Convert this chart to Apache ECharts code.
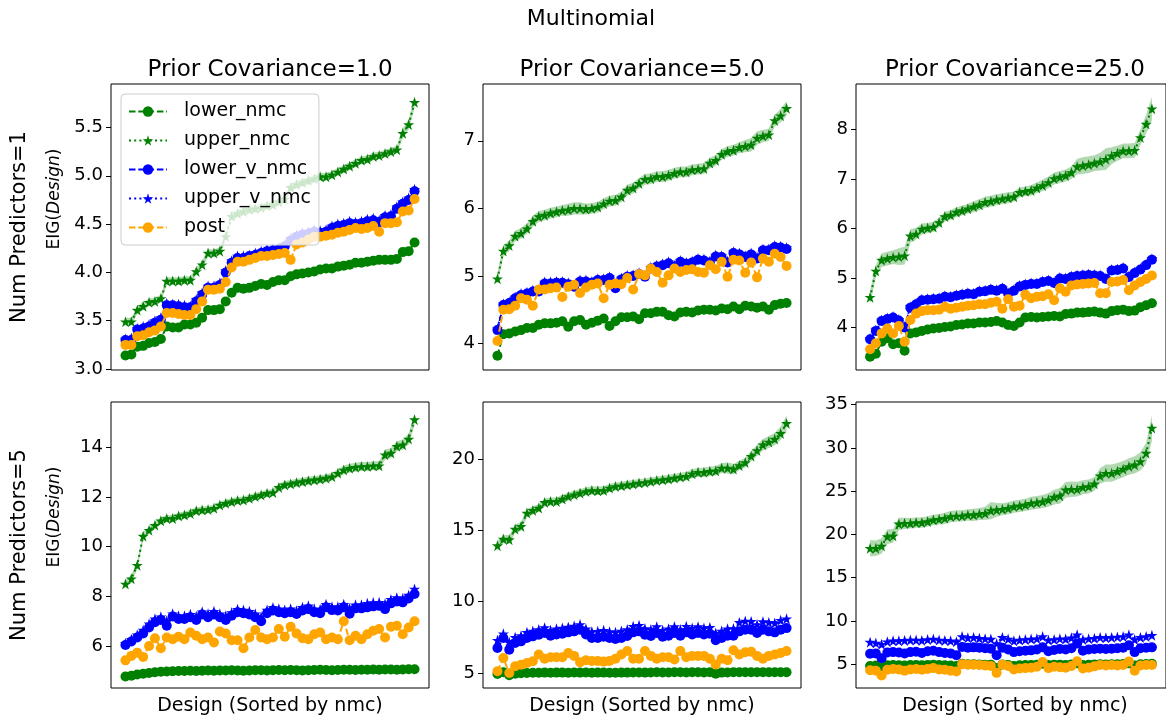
<!DOCTYPE html>
<html>
<head>
<meta charset="utf-8">
<script src="https://cdn.jsdelivr.net/npm/echarts@6/dist/echarts.min.js"></script>
<style>
  html, body { margin: 0; padding: 0; background: #fff; }
  #chart { width: 1166px; height: 721px; }
</style>
</head>
<body>
<div id="chart"></div>
<script>
// Design index 0..49 (designs sorted by nmc estimate)
const designCount = 50;

// ---- Num Predictors = 1, Prior Covariance = 1.0 ----
const lowerNmc_p1_c1 = [3.14,3.15,3.23,3.24,3.27,3.28,3.31,3.44,3.43,3.43,3.46,3.46,3.48,3.53,3.61,3.61,3.62,3.70,3.79,3.84,3.83,3.84,3.86,3.88,3.87,3.90,3.92,3.92,3.96,3.98,3.99,4.00,4.01,4.03,4.04,4.04,4.06,4.07,4.08,4.10,4.10,4.11,4.12,4.13,4.13,4.13,4.14,4.21,4.22,4.31];
const upperNmc_p1_c1 = [3.49,3.49,3.61,3.65,3.69,3.70,3.73,3.91,3.91,3.91,3.92,3.92,4.01,4.08,4.20,4.20,4.22,4.37,4.58,4.61,4.63,4.65,4.66,4.67,4.69,4.70,4.73,4.76,4.88,4.91,4.93,4.95,4.97,4.99,4.99,5.01,5.04,5.07,5.10,5.13,5.16,5.17,5.20,5.21,5.23,5.25,5.27,5.44,5.53,5.76];
const upperNmcSpread_p1_c1 = [0.04,0.04,0.04,0.04,0.04,0.04,0.04,0.04,0.04,0.04,0.04,0.04,0.04,0.04,0.04,0.04,0.04,0.04,0.04,0.04,0.04,0.04,0.04,0.04,0.04,0.04,0.04,0.04,0.04,0.04,0.04,0.04,0.04,0.04,0.04,0.04,0.04,0.04,0.04,0.04,0.04,0.04,0.04,0.04,0.04,0.04,0.04,0.05,0.05,0.06];
const lowerVNmc_p1_c1 = [3.30,3.30,3.41,3.42,3.44,3.48,3.51,3.66,3.66,3.65,3.64,3.64,3.70,3.77,3.84,3.84,3.87,4.00,4.10,4.15,4.15,4.17,4.18,4.20,4.22,4.23,4.24,4.27,4.33,4.37,4.39,4.40,4.42,4.41,4.42,4.46,4.48,4.49,4.51,4.50,4.51,4.53,4.54,4.52,4.57,4.58,4.66,4.71,4.75,4.84];
const upperVNmc_p1_c1 = [3.31,3.32,3.42,3.44,3.46,3.50,3.53,3.68,3.67,3.67,3.66,3.65,3.72,3.79,3.86,3.86,3.89,4.02,4.12,4.17,4.17,4.18,4.20,4.22,4.24,4.25,4.26,4.29,4.35,4.39,4.41,4.42,4.44,4.43,4.44,4.48,4.50,4.51,4.53,4.52,4.53,4.55,4.56,4.54,4.59,4.60,4.68,4.73,4.77,4.86];
const post_p1_c1 = [3.25,3.25,3.34,3.35,3.38,3.40,3.44,3.58,3.58,3.57,3.56,3.56,3.62,3.70,3.82,3.82,3.83,3.90,4.05,4.11,4.11,4.13,4.15,4.17,4.17,4.18,4.19,4.20,4.13,4.29,4.31,4.34,4.37,4.37,4.38,4.39,4.41,4.42,4.44,4.46,4.45,4.46,4.48,4.42,4.51,4.51,4.52,4.63,4.64,4.76];

// ---- Num Predictors = 1, Prior Covariance = 5.0 ----
const lowerNmc_p1_c5 = [3.82,4.14,4.15,4.18,4.20,4.23,4.23,4.28,4.30,4.30,4.31,4.33,4.25,4.33,4.35,4.28,4.31,4.34,4.37,4.26,4.33,4.39,4.39,4.40,4.36,4.45,4.45,4.47,4.47,4.42,4.40,4.46,4.47,4.46,4.49,4.50,4.50,4.49,4.52,4.51,4.55,4.51,4.56,4.55,4.53,4.55,4.50,4.57,4.59,4.60];
const upperNmc_p1_c5 = [4.96,5.37,5.45,5.59,5.63,5.70,5.81,5.88,5.90,5.93,5.95,5.97,5.98,6.00,6.00,5.99,6.00,6.02,6.07,6.11,6.12,6.17,6.27,6.30,6.37,6.43,6.44,6.47,6.47,6.49,6.52,6.54,6.54,6.57,6.58,6.59,6.67,6.71,6.80,6.84,6.86,6.90,6.92,6.94,7.04,7.07,7.09,7.30,7.37,7.48];
const upperNmcSpread_p1_c5 = [0.09,0.08,0.08,0.08,0.08,0.08,0.08,0.08,0.08,0.08,0.08,0.08,0.09,0.09,0.09,0.08,0.08,0.08,0.08,0.08,0.08,0.08,0.08,0.08,0.08,0.08,0.08,0.08,0.08,0.08,0.08,0.08,0.08,0.08,0.08,0.08,0.08,0.08,0.08,0.08,0.08,0.08,0.09,0.10,0.10,0.09,0.09,0.09,0.10,0.11];
const lowerVNmc_p1_c5 = [4.20,4.57,4.60,4.67,4.72,4.74,4.77,4.77,4.89,4.89,4.90,4.90,4.88,4.84,4.92,4.92,4.90,4.94,4.94,4.97,4.82,4.95,4.99,5.00,5.03,4.99,5.11,5.14,5.16,5.19,5.14,5.21,5.18,5.20,5.24,5.23,5.20,5.29,5.28,5.20,5.34,5.32,5.28,5.32,5.26,5.38,5.38,5.43,5.42,5.40];
const upperVNmc_p1_c5 = [4.22,4.59,4.62,4.69,4.74,4.76,4.79,4.79,4.91,4.91,4.92,4.92,4.90,4.86,4.94,4.94,4.92,4.96,4.96,4.99,4.84,4.97,5.01,5.02,5.05,5.01,5.13,5.16,5.18,5.21,5.16,5.23,5.20,5.22,5.26,5.25,5.22,5.31,5.30,5.22,5.36,5.34,5.30,5.34,5.28,5.40,5.40,5.45,5.44,5.42];
const post_p1_c5 = [4.04,4.50,4.51,4.56,4.67,4.65,4.56,4.80,4.80,4.82,4.83,4.69,4.84,4.87,4.75,4.83,4.87,4.89,4.67,4.87,4.89,4.88,4.97,4.80,5.03,5.01,5.11,5.06,4.90,5.01,5.11,5.06,5.09,5.10,5.06,5.05,5.16,5.10,5.21,4.99,5.24,5.23,5.05,5.20,4.98,5.26,5.21,5.33,5.28,5.15];

// ---- Num Predictors = 1, Prior Covariance = 25.0 ----
const lowerNmc_p1_c25 = [3.41,3.47,3.71,3.78,3.66,3.68,3.53,3.88,3.90,3.93,3.96,3.98,3.99,4.01,4.02,4.05,4.06,4.08,4.08,4.10,4.10,4.11,4.13,4.10,4.05,4.03,4.10,4.20,4.21,4.20,4.21,4.22,4.23,4.22,4.27,4.28,4.30,4.30,4.31,4.32,4.30,4.28,4.33,4.35,4.36,4.33,4.34,4.41,4.45,4.49];
const upperNmc_p1_c25 = [4.61,5.14,5.36,5.39,5.42,5.43,5.45,5.85,5.89,5.99,6.01,6.03,6.12,6.24,6.27,6.33,6.36,6.40,6.44,6.48,6.53,6.55,6.58,6.60,6.62,6.64,6.73,6.75,6.77,6.82,6.87,6.93,7.01,7.04,7.07,7.13,7.25,7.27,7.29,7.32,7.35,7.40,7.47,7.52,7.57,7.57,7.58,7.84,8.11,8.42];
const upperNmcSpread_p1_c25 = [0.14,0.12,0.14,0.14,0.14,0.17,0.18,0.14,0.12,0.11,0.10,0.10,0.10,0.10,0.10,0.10,0.10,0.10,0.11,0.11,0.11,0.11,0.11,0.11,0.11,0.10,0.10,0.10,0.11,0.11,0.12,0.12,0.12,0.12,0.12,0.13,0.16,0.17,0.17,0.16,0.18,0.22,0.17,0.15,0.15,0.15,0.15,0.16,0.19,0.24];
const lowerVNmc_p1_c25 = [3.76,3.93,4.13,4.17,4.20,4.14,4.00,4.40,4.47,4.55,4.56,4.57,4.58,4.62,4.61,4.64,4.66,4.68,4.67,4.72,4.73,4.76,4.74,4.78,4.68,4.74,4.83,4.86,4.88,4.88,4.92,4.94,4.90,4.99,4.98,5.02,5.04,5.05,5.06,5.05,5.04,4.98,5.15,5.16,5.19,5.02,5.10,5.17,5.26,5.37];
const upperVNmc_p1_c25 = [3.78,3.95,4.15,4.19,4.22,4.16,4.02,4.42,4.49,4.57,4.58,4.59,4.60,4.64,4.63,4.66,4.68,4.70,4.69,4.74,4.75,4.78,4.76,4.80,4.70,4.76,4.85,4.88,4.90,4.90,4.94,4.96,4.92,5.01,5.00,5.04,5.06,5.07,5.08,5.07,5.06,5.00,5.17,5.18,5.21,5.04,5.12,5.19,5.28,5.39];
const post_p1_c25 = [3.56,3.68,3.88,3.98,3.88,4.03,3.71,4.15,4.28,4.33,4.35,4.35,4.36,4.42,4.38,4.40,4.42,4.44,4.45,4.47,4.47,4.50,4.52,4.38,4.57,4.42,4.44,4.66,4.59,4.62,4.63,4.67,4.55,4.79,4.72,4.85,4.87,4.88,4.89,4.90,4.69,4.69,4.92,4.93,4.96,4.75,4.85,4.92,4.98,5.05];

// ---- Num Predictors = 5, Prior Covariance = 1.0 ----
const lowerNmc_p5_c1 = [4.78,4.81,4.86,4.89,4.92,4.95,4.97,4.98,4.99,5.00,5.00,5.01,5.00,5.01,5.02,5.01,5.02,5.02,5.03,5.02,5.01,5.02,5.03,5.03,5.02,5.03,5.04,5.03,5.04,5.03,5.02,5.03,5.04,5.05,5.04,5.03,5.04,5.05,5.05,5.04,5.05,5.05,5.06,5.05,5.06,5.06,5.05,5.06,5.07,5.07];
const upperNmc_p5_c1 = [8.50,8.71,9.25,10.42,10.66,10.86,11.04,11.13,11.13,11.23,11.27,11.33,11.44,11.47,11.49,11.54,11.67,11.74,11.80,11.85,11.87,11.94,12.01,12.07,12.14,12.17,12.38,12.48,12.52,12.57,12.61,12.65,12.68,12.71,12.75,12.81,12.95,13.08,13.15,13.19,13.22,13.22,13.25,13.25,13.69,13.76,14.03,14.09,14.32,15.10];
const upperNmcSpread_p5_c1 = [0.16,0.16,0.16,0.16,0.14,0.14,0.14,0.14,0.14,0.14,0.14,0.14,0.14,0.14,0.14,0.14,0.14,0.14,0.14,0.14,0.14,0.14,0.14,0.14,0.14,0.14,0.16,0.16,0.16,0.16,0.16,0.16,0.16,0.16,0.16,0.16,0.16,0.18,0.18,0.18,0.18,0.18,0.18,0.18,0.20,0.20,0.20,0.20,0.22,0.24];
const lowerVNmc_p5_c1 = [6.05,6.19,6.35,6.51,6.75,6.96,7.05,6.82,7.19,7.09,7.09,7.16,7.05,7.27,7.16,7.27,7.16,7.05,7.22,7.36,7.32,7.27,7.16,7.00,7.32,7.43,7.36,7.32,7.36,7.29,7.43,7.49,7.36,7.32,7.56,7.45,7.43,7.56,7.30,7.52,7.52,7.56,7.60,7.62,7.49,7.72,7.80,7.76,7.92,8.10];
const upperVNmc_p5_c1 = [6.12,6.28,6.46,6.65,6.90,7.10,7.18,7.02,7.30,7.22,7.22,7.28,7.20,7.38,7.30,7.40,7.30,7.22,7.35,7.48,7.45,7.40,7.30,7.18,7.45,7.55,7.50,7.45,7.50,7.42,7.56,7.62,7.50,7.48,7.68,7.58,7.58,7.68,7.52,7.66,7.66,7.72,7.75,7.76,7.70,7.88,7.95,7.92,8.05,8.30];
const post_p5_c1 = [5.43,5.61,5.74,5.57,6.01,6.32,5.92,6.35,6.28,6.38,6.28,6.55,6.42,6.28,6.35,6.15,6.59,6.51,6.24,6.24,5.92,6.35,6.65,6.35,6.28,6.35,6.69,6.38,6.78,6.51,6.32,6.28,6.48,6.55,6.28,6.35,6.28,7.00,6.24,6.42,6.28,6.48,6.62,6.69,6.35,6.78,6.82,6.48,6.75,7.00];

// ---- Num Predictors = 5, Prior Covariance = 5.0 ----
const lowerNmc_p5_c5 = [4.93,5.05,4.85,4.95,4.98,5.00,5.02,5.02,5.03,5.02,5.03,5.03,5.02,5.04,5.03,5.04,5.02,5.03,5.03,5.02,5.02,5.03,5.03,5.04,5.04,5.03,5.04,5.05,5.04,5.04,5.05,5.05,5.04,5.05,5.05,5.04,5.05,4.95,5.03,5.04,5.05,5.05,5.06,5.05,5.05,5.06,5.06,5.05,5.06,5.06];
const upperNmc_p5_c5 = [13.93,14.39,14.35,15.09,15.28,16.21,16.40,16.57,16.96,17.03,17.03,17.20,17.38,17.50,17.62,17.73,17.80,17.78,17.80,17.97,18.08,18.13,18.20,18.25,18.32,18.36,18.43,18.50,18.55,18.60,18.67,18.74,18.79,18.97,19.07,19.07,19.14,19.18,19.37,19.37,19.30,19.55,19.75,20.20,20.60,21.00,21.20,21.40,21.80,22.50];
const upperNmcSpread_p5_c5 = [0.35,0.30,0.30,0.30,0.30,0.30,0.28,0.28,0.28,0.28,0.28,0.28,0.28,0.28,0.28,0.28,0.30,0.30,0.30,0.28,0.28,0.28,0.28,0.28,0.28,0.28,0.28,0.28,0.28,0.30,0.30,0.30,0.30,0.32,0.32,0.32,0.32,0.34,0.34,0.40,0.36,0.34,0.34,0.36,0.38,0.40,0.42,0.44,0.48,0.55];
const lowerVNmc_p5_c5 = [6.75,7.45,6.64,7.10,7.22,7.45,7.57,7.69,7.80,7.62,7.70,7.75,7.85,7.92,8.04,7.70,7.45,7.45,7.55,7.45,7.38,7.45,7.60,7.85,7.92,7.69,7.60,7.80,7.55,7.62,7.80,7.62,7.85,7.70,7.80,7.70,7.75,7.30,7.45,7.62,7.62,7.92,8.04,8.04,7.80,8.04,7.92,7.85,8.04,8.15];
const upperVNmc_p5_c5 = [7.30,7.75,7.15,7.50,7.62,7.85,7.95,8.05,8.18,8.00,8.10,8.15,8.22,8.30,8.40,8.10,7.90,7.92,8.00,7.90,7.85,7.95,8.05,8.28,8.35,8.12,8.05,8.25,8.00,8.10,8.25,8.05,8.28,8.15,8.25,8.15,8.20,7.80,7.95,8.10,8.12,8.55,8.65,8.62,8.40,8.60,8.55,8.50,8.70,8.80];
const post_p5_c5 = [5.12,6.05,5.00,5.47,5.58,5.70,5.82,6.29,6.00,6.10,6.10,6.10,6.40,6.20,5.75,5.90,5.85,5.85,5.80,5.85,6.00,6.30,6.55,6.00,6.00,6.55,6.20,6.00,6.10,6.10,5.95,6.55,6.10,6.20,6.20,6.20,6.00,5.60,6.00,5.90,6.60,6.30,6.45,6.50,6.20,6.00,6.20,6.30,6.40,6.55];

// ---- Num Predictors = 5, Prior Covariance = 25.0 ----
const lowerNmc_p5_c25 = [4.80,4.85,4.55,4.88,4.90,4.88,4.85,4.90,4.92,4.88,4.92,4.95,4.90,4.88,4.85,4.80,5.05,5.00,5.00,4.98,4.95,4.95,4.55,4.98,4.90,4.80,4.88,4.90,4.92,4.95,5.05,4.90,4.95,4.95,4.92,4.98,5.10,4.90,4.95,4.98,5.00,4.98,5.00,5.00,5.02,5.10,4.85,5.00,5.02,5.05];
const upperNmc_p5_c25 = [18.40,18.40,18.67,19.75,19.83,21.22,21.29,21.29,21.37,21.37,21.49,21.68,21.76,21.87,22.07,22.14,22.14,22.26,22.26,22.37,22.45,22.76,22.84,22.92,23.03,23.22,23.30,23.42,23.61,23.69,23.80,24.00,24.31,24.46,25.15,25.23,25.23,25.46,25.54,25.85,26.78,27.08,27.08,27.30,27.55,27.86,28.05,28.44,29.40,32.30];
const upperNmcSpread_p5_c25 = [0.95,0.90,0.90,0.85,0.80,0.70,0.65,0.60,0.60,0.60,0.60,0.60,0.60,0.65,0.65,0.65,0.65,0.65,0.70,0.70,0.75,1.00,0.80,0.70,0.70,0.70,0.70,0.70,0.75,0.75,0.75,0.80,0.85,0.90,0.90,0.90,0.85,0.80,0.80,0.80,0.90,1.00,1.00,0.95,0.95,0.95,1.00,1.05,1.20,1.50];
const lowerVNmc_p5_c25 = [6.20,6.25,5.70,6.35,6.40,6.35,6.25,6.40,6.45,6.30,6.50,6.55,6.40,6.30,6.25,6.05,7.00,6.90,6.95,6.90,6.85,6.80,6.05,6.90,6.70,6.40,6.50,6.55,6.60,6.70,6.95,6.50,6.65,6.75,6.70,6.85,7.40,6.55,6.70,6.75,6.80,6.75,6.80,6.85,6.90,7.20,6.40,6.85,6.90,6.95];
const upperVNmc_p5_c25 = [7.55,7.45,7.30,7.60,7.70,7.70,7.75,7.80,7.80,7.75,7.85,7.90,7.80,7.75,7.70,7.60,8.20,8.05,8.10,8.00,7.95,7.90,7.40,8.10,7.90,7.70,7.80,7.85,7.90,7.95,8.20,7.80,7.85,7.95,7.90,8.05,8.40,7.85,7.95,8.00,8.10,8.05,8.10,8.15,8.20,8.40,7.85,8.10,8.20,8.35];
const post_p5_c25 = [4.30,4.25,3.70,4.35,4.45,4.40,4.25,4.40,4.45,4.35,4.45,4.55,4.40,4.35,4.25,4.15,5.00,4.95,4.95,4.90,4.85,4.80,4.00,4.95,4.80,4.40,4.50,4.55,4.60,4.70,5.25,4.55,4.70,4.65,4.60,4.80,5.35,4.50,4.60,4.75,4.90,4.85,4.90,4.85,4.90,5.30,4.25,4.85,4.90,4.90];

// Tick values on each panel's y axis
const yTicks_p1_c1 = [3.0, 3.5, 4.0, 4.5, 5.0, 5.5];
const yTicks_p1_c5 = [4, 5, 6, 7];
const yTicks_p1_c25 = [4, 5, 6, 7, 8];
const yTicks_p5_c1 = [6, 8, 10, 12, 14];
const yTicks_p5_c5 = [5, 10, 15, 20];
const yTicks_p5_c25 = [5, 10, 15, 20, 25, 30, 35];

const methodNames = ['lower_nmc', 'upper_nmc', 'lower_v_nmc', 'upper_v_nmc', 'post'];
const columnTitles = ['Prior Covariance=1.0', 'Prior Covariance=5.0', 'Prior Covariance=25.0'];
const rowTitles = ['Num Predictors=1', 'Num Predictors=5'];
const xAxisTitle = 'Design (Sorted by nmc)';
const figureTitle = 'Multinomial';

// ------------------------------------------------------------------
const panels = [
  { lower: lowerNmc_p1_c1, upper: upperNmc_p1_c1, spread: upperNmcSpread_p1_c1, lowerV: lowerVNmc_p1_c1, upperV: upperVNmc_p1_c1, post: post_p1_c1, ticks: yTicks_p1_c1, min: 2.99, max: 5.95, digits: 1 },
  { lower: lowerNmc_p1_c5, upper: upperNmc_p1_c5, spread: upperNmcSpread_p1_c5, lowerV: lowerVNmc_p1_c5, upperV: upperVNmc_p1_c5, post: post_p1_c5, ticks: yTicks_p1_c5, min: 3.61, max: 7.84, digits: 0 },
  { lower: lowerNmc_p1_c25, upper: upperNmc_p1_c25, spread: upperNmcSpread_p1_c25, lowerV: lowerVNmc_p1_c25, upperV: upperVNmc_p1_c25, post: post_p1_c25, ticks: yTicks_p1_c25, min: 3.14, max: 8.92, digits: 0 },
  { lower: lowerNmc_p5_c1, upper: upperNmc_p5_c1, spread: upperNmcSpread_p5_c1, lowerV: lowerVNmc_p5_c1, upperV: upperVNmc_p5_c1, post: post_p5_c1, ticks: yTicks_p5_c1, min: 4.32, max: 15.81, digits: 0 },
  { lower: lowerNmc_p5_c5, upper: upperNmc_p5_c5, spread: upperNmcSpread_p5_c5, lowerV: lowerVNmc_p5_c5, upperV: upperVNmc_p5_c5, post: post_p5_c5, ticks: yTicks_p5_c5, min: 3.95, max: 24.0, digits: 0 },
  { lower: lowerNmc_p5_c25, upper: upperNmc_p5_c25, spread: upperNmcSpread_p5_c25, lowerV: lowerVNmc_p5_c25, upperV: upperVNmc_p5_c25, post: post_p5_c25, ticks: yTicks_p5_c25, min: 2.25, max: 35.31, digits: 0 }
];

const FONT = 'DejaVu Sans';
const GREEN = '#008000', BLUE = '#0000ff', ORANGE = '#ffa500';
const colLeft = [111, 483, 856];
const rowTop = [84, 402];
const PW = 318, PH = 286;

// five-pointed star marker
function starPath() {
  const pts = [];
  for (let k = 0; k < 10; k++) {
    const r = k % 2 === 0 ? 1 : 0.382;
    const a = -Math.PI / 2 + k * Math.PI / 5;
    pts.push((r * Math.cos(a)).toFixed(3) + ' ' + (r * Math.sin(a)).toFixed(3));
  }
  return 'path://M' + pts.join(' L') + ' Z';
}
const STAR = starPath();

const grids = [], xAxes = [], yAxes = [], series = [];

panels.forEach((p, k) => {
  const row = Math.floor(k / 3), col = k % 3;
  grids.push({ left: colLeft[col], top: rowTop[row], width: PW, height: PH, show: true, borderColor: '#000', borderWidth: 1, backgroundColor: 'transparent' });
  xAxes.push({ type: 'value', gridIndex: k, min: -2.45, max: designCount - 1 + 2.45,
    axisLine: { show: false, onZero: false }, axisTick: { show: false }, axisLabel: { show: false }, splitLine: { show: false } });
  yAxes.push({
    type: 'value', gridIndex: k, min: p.min, max: p.max, position: 'left',
    axisLine: { show: false, onZero: false },
    splitLine: { show: false },
    axisTick: { show: true, inside: false, length: 5, customValues: p.ticks, lineStyle: { color: '#000', width: 1 } },
    axisLabel: { show: true, customValues: p.ticks, margin: 8, color: '#000', fontFamily: FONT, fontSize: 18,
      formatter: v => Number(v).toFixed(p.digits) }
  });

  // shaded spread around upper_nmc
  const band = p.upper.map((v, i) => [i, v - p.spread[i], v + p.spread[i]]);
  series.push({
    type: 'custom', xAxisIndex: k, yAxisIndex: k, silent: true, z: 1,
    encode: { x: 0, y: [1, 2] },
    data: band,
    renderItem: (params, api) => {
      if (params.dataIndex !== 0) return null;
      const top = [], bot = [];
      for (let i = 0; i < band.length; i++) {
        top.push(api.coord([band[i][0], band[i][2]]));
        bot.push(api.coord([band[i][0], band[i][1]]));
      }
      return { type: 'polygon', shape: { points: top.concat(bot.reverse()) }, style: { fill: 'rgba(0,128,0,0.3)', stroke: null } };
    }
  });

  const defs = [
    { name: 'lower_nmc', data: p.lower, color: GREEN, symbol: 'circle', size: 10, dash: [6.5, 2.8] },
    { name: 'upper_nmc', data: p.upper, color: GREEN, symbol: STAR, size: 11, dash: [2, 3.2] },
    { name: 'lower_v_nmc', data: p.lowerV, color: BLUE, symbol: 'circle', size: 10, dash: [6.5, 2.8] },
    { name: 'upper_v_nmc', data: p.upperV, color: BLUE, symbol: STAR, size: 11, dash: [2, 3.2] },
    { name: 'post', data: p.post, color: ORANGE, symbol: 'circle', size: 10, dash: [6.5, 2.8] }
  ];
  defs.forEach((d, j) => {
    series.push({
      type: 'line', name: d.name, xAxisIndex: k, yAxisIndex: k, z: 2 + j,
      data: d.data.map((v, i) => [i, v]),
      symbol: d.symbol, symbolSize: d.size, showSymbol: true, showAllSymbol: true,
      itemStyle: { color: d.color, borderWidth: 0 },
      lineStyle: { color: d.color, width: 2, type: d.dash },
      emphasis: { disabled: true }
    });
  });
});

const graphics = [];
graphics.push({ type: 'text', x: 591, y: 19, style: { text: figureTitle, font: '22px "' + FONT + '"', fill: '#000', textAlign: 'center', textVerticalAlign: 'middle' } });
columnTitles.forEach((t, c) => {
  graphics.push({ type: 'text', x: colLeft[c] + PW / 2, y: 70, style: { text: t, font: '23px "' + FONT + '"', fill: '#000', textAlign: 'center', textVerticalAlign: 'middle' } });
  graphics.push({ type: 'text', x: colLeft[c] + PW / 2, y: 706, style: { text: xAxisTitle, font: '19px "' + FONT + '"', fill: '#000', textAlign: 'center', textVerticalAlign: 'middle' } });
});
rowTitles.forEach((t, r) => {
  const cy = rowTop[r] + PH / 2;
  graphics.push({ type: 'text', x: 20, y: cy, rotation: Math.PI / 2, style: { text: t, font: '21px "' + FONT + '"', fill: '#000', textAlign: 'center', textVerticalAlign: 'middle' } });
  graphics.push({ type: 'text', x: 55, y: cy - 28, rotation: Math.PI / 2, style: {
    text: '{a|EIG(}{b|Design}{a|)}', textAlign: 'center', textVerticalAlign: 'middle',
    rich: { a: { fontFamily: FONT, fontSize: 17, fill: '#000' }, b: { fontFamily: FONT, fontSize: 17, fontStyle: 'italic', fill: '#000' } }
  } });
});

const chart = echarts.init(document.getElementById('chart'), null, { renderer: 'canvas' });
chart.setOption({
  animation: false,
  backgroundColor: '#fff',
  grid: grids,
  xAxis: xAxes,
  yAxis: yAxes,
  series: series,
  legend: {
    data: methodNames,
    orient: 'vertical', left: 121, top: 94,
    padding: [8, 8, 8, 7],
    itemWidth: 38, itemHeight: 13, itemGap: 10,
    backgroundColor: 'rgba(255,255,255,0.8)', borderColor: '#cccccc', borderWidth: 1, borderRadius: 4,
    textStyle: { fontFamily: FONT, fontSize: 19, color: '#000', padding: [0, 0, 0, 12], lineHeight: 19 },
    selectedMode: false, z: 10
  },
  graphic: graphics
});
</script>
</body>
</html>
